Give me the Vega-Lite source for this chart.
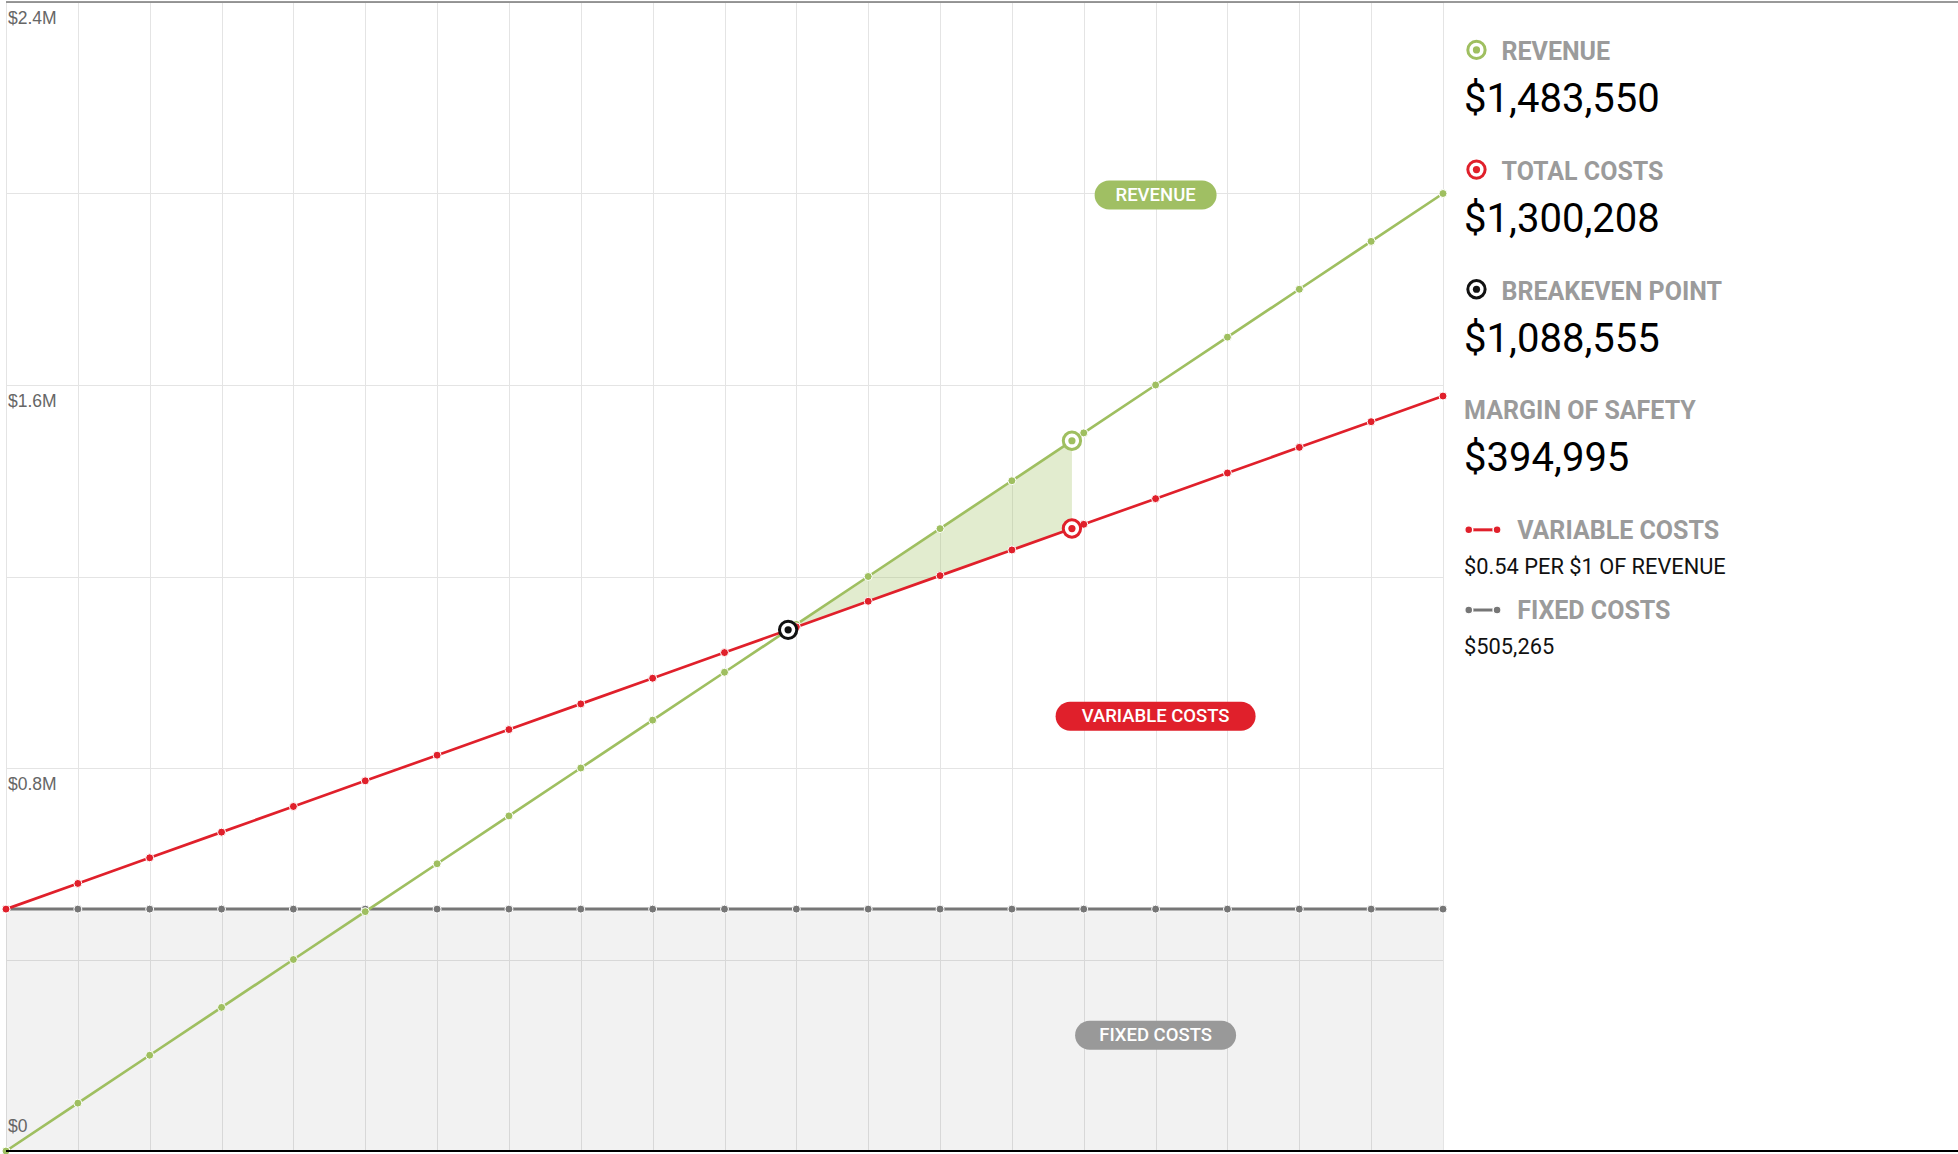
{
  "$schema": "https://vega.github.io/schema/vega-lite/v6.json",
  "padding": {"left": 0, "top": 1, "right": 0, "bottom": 0},
  "spacing": 0,
  "bounds": "flush",
  "config": {"view": {"stroke": null}, "font": "Roboto"},
  "datasets": {
    "series": [
      {"sales": 0, "revenue": 0, "totalCosts": 505265, "fixedCosts": 505265},
      {"sales": 100000, "revenue": 100000, "totalCosts": 558849, "fixedCosts": 505265},
      {"sales": 200000, "revenue": 200000, "totalCosts": 612433, "fixedCosts": 505265},
      {"sales": 300000, "revenue": 300000, "totalCosts": 666017, "fixedCosts": 505265},
      {"sales": 400000, "revenue": 400000, "totalCosts": 719601, "fixedCosts": 505265},
      {"sales": 500000, "revenue": 500000, "totalCosts": 773185, "fixedCosts": 505265},
      {"sales": 600000, "revenue": 600000, "totalCosts": 826768, "fixedCosts": 505265},
      {"sales": 700000, "revenue": 700000, "totalCosts": 880352, "fixedCosts": 505265},
      {"sales": 800000, "revenue": 800000, "totalCosts": 933936, "fixedCosts": 505265},
      {"sales": 900000, "revenue": 900000, "totalCosts": 987520, "fixedCosts": 505265},
      {"sales": 1000000, "revenue": 1000000, "totalCosts": 1041104, "fixedCosts": 505265},
      {"sales": 1100000, "revenue": 1100000, "totalCosts": 1094688, "fixedCosts": 505265},
      {"sales": 1200000, "revenue": 1200000, "totalCosts": 1148272, "fixedCosts": 505265},
      {"sales": 1300000, "revenue": 1300000, "totalCosts": 1201856, "fixedCosts": 505265},
      {"sales": 1400000, "revenue": 1400000, "totalCosts": 1255440, "fixedCosts": 505265},
      {"sales": 1500000, "revenue": 1500000, "totalCosts": 1309024, "fixedCosts": 505265},
      {"sales": 1600000, "revenue": 1600000, "totalCosts": 1362608, "fixedCosts": 505265},
      {"sales": 1700000, "revenue": 1700000, "totalCosts": 1416192, "fixedCosts": 505265},
      {"sales": 1800000, "revenue": 1800000, "totalCosts": 1469776, "fixedCosts": 505265},
      {"sales": 1900000, "revenue": 1900000, "totalCosts": 1523359, "fixedCosts": 505265},
      {"sales": 2000000, "revenue": 2000000, "totalCosts": 1576943, "fixedCosts": 505265}
    ],
    "margin": [
      {"sales": 1088555, "revenue": 1088555, "totalCosts": 1088555},
      {"sales": 1483550, "revenue": 1483550, "totalCosts": 1300208}
    ],
    "markers": [
      {"name": "revenue", "sales": 1483550, "value": 1483550},
      {"name": "totalCosts", "sales": 1483550, "value": 1300208},
      {"name": "breakeven", "sales": 1088555, "value": 1088555}
    ],
    "pills": [
      {"label": "REVENUE", "sales": 1600000, "value": 1997000},
      {"label": "VARIABLE COSTS", "sales": 1600000, "value": 908000},
      {"label": "FIXED COSTS", "sales": 1600000, "value": 242000}
    ],
    "yLabels": [
      {"value": 0, "label": "$0"},
      {"value": 800000, "label": "$0.8M"},
      {"value": 1600000, "label": "$1.6M"},
      {"value": 2400000, "label": "$2.4M"}
    ],
    "borders": [
      {"edge": "top", "row": 0},
      {"edge": "bottom", "row": 48}
    ],
    "headers": [
      {"label": "REVENUE", "col": 11.36, "row": 2.1},
      {"label": "TOTAL COSTS", "col": 11.36, "row": 7.1},
      {"label": "BREAKEVEN POINT", "col": 11.36, "row": 12.1},
      {"label": "MARGIN OF SAFETY", "col": 4.1, "row": 17.1},
      {"label": "VARIABLE COSTS", "col": 14.4, "row": 22.1},
      {"label": "FIXED COSTS", "col": 14.4, "row": 25.45}
    ],
    "amounts": [
      {"amount": "$1,483,550", "col": 4.1, "row": 4.1},
      {"amount": "$1,300,208", "col": 4.1, "row": 9.1},
      {"amount": "$1,088,555", "col": 4.1, "row": 14.1},
      {"amount": "$394,995", "col": 4.1, "row": 19.1}
    ],
    "notes": [
      {"note": "$0.54 PER $1 OF REVENUE", "col": 4.1, "row": 23.6},
      {"note": "$505,265", "col": 4.1, "row": 26.95}
    ],
    "rings": [
      {"item": "REVENUE", "col": 6.5, "row": 2.0},
      {"item": "TOTAL COSTS", "col": 6.5, "row": 7.0},
      {"item": "BREAKEVEN POINT", "col": 6.5, "row": 12.0}
    ],
    "lineIcons": [
      {"item": "VARIABLE COSTS", "col": 5.0, "row": 22.05},
      {"item": "VARIABLE COSTS", "col": 10.5, "row": 22.05},
      {"item": "FIXED COSTS", "col": 5.0, "row": 25.4},
      {"item": "FIXED COSTS", "col": 10.5, "row": 25.4}
    ]
  },
  "hconcat": [
    {
      "width": 1437,
      "height": 1149,
      "layer": [
        {
          "data": {"name": "series"},
          "mark": {"type": "area", "color": "#000000", "opacity": 0.05},
          "encoding": {
            "x": {
              "field": "sales", "type": "quantitative",
              "scale": {"domain": [0, 2000000], "nice": false},
              "axis": {
                "values": [0, 100000, 200000, 300000, 400000, 500000, 600000, 700000, 800000, 900000, 1000000, 1100000, 1200000, 1300000, 1400000, 1500000, 1600000, 1700000, 1800000, 1900000, 2000000],
                "labels": false, "ticks": false, "domain": false, "title": null,
                "grid": true, "gridColor": "#e4e4e4", "gridWidth": 1
              }
            },
            "y": {
              "field": "fixedCosts", "type": "quantitative",
              "scale": {"domain": [0, 2400000], "nice": false},
              "axis": {
                "values": [0, 400000, 800000, 1200000, 1600000, 2000000, 2400000],
                "title": null, "domain": false, "ticks": false, "labels": false,
                "grid": true, "gridColor": "#e4e4e4", "gridWidth": 1
              }
            }
          }
        },
        {
          "data": {"name": "margin"},
          "mark": {"type": "area", "color": "#9fbf60", "opacity": 0.3},
          "encoding": {
            "x": {"field": "sales", "type": "quantitative"},
            "y": {"field": "revenue", "type": "quantitative"},
            "y2": {"field": "totalCosts"}
          }
        },
        {
          "data": {"name": "yLabels"},
          "transform": [{"filter": "datum.value > 0"}],
          "mark": {"type": "text", "align": "left", "baseline": "top", "dx": 2, "dy": 8, "font": "Liberation Sans", "fontSize": 17.5, "color": "#666666"},
          "encoding": {
            "x": {"datum": 0, "type": "quantitative"},
            "y": {"field": "value", "type": "quantitative"},
            "text": {"field": "label", "type": "nominal"}
          }
        },
        {
          "data": {"name": "yLabels"},
          "transform": [{"filter": "datum.value == 0"}],
          "mark": {"type": "text", "align": "left", "baseline": "alphabetic", "dx": 2, "dy": -19, "font": "Liberation Sans", "fontSize": 17.5, "color": "#666666"},
          "encoding": {
            "x": {"datum": 0, "type": "quantitative"},
            "y": {"field": "value", "type": "quantitative"},
            "text": {"field": "label", "type": "nominal"}
          }
        },
        {
          "data": {"name": "series"},
          "mark": {"type": "line", "color": "#767676", "strokeWidth": 3},
          "encoding": {
            "x": {"field": "sales", "type": "quantitative"},
            "y": {"field": "fixedCosts", "type": "quantitative"}
          }
        },
        {
          "data": {"name": "series"},
          "mark": {"type": "circle", "color": "#767676", "size": 64, "opacity": 1, "stroke": "white", "strokeWidth": 1},
          "encoding": {
            "x": {"field": "sales", "type": "quantitative"},
            "y": {"field": "fixedCosts", "type": "quantitative"}
          }
        },
        {
          "data": {"name": "series"},
          "mark": {"type": "line", "color": "#9fbf60", "strokeWidth": 2.7},
          "encoding": {
            "x": {"field": "sales", "type": "quantitative"},
            "y": {"field": "revenue", "type": "quantitative"}
          }
        },
        {
          "data": {"name": "series"},
          "mark": {"type": "circle", "color": "#9fbf60", "size": 64, "opacity": 1, "stroke": "white", "strokeWidth": 1},
          "encoding": {
            "x": {"field": "sales", "type": "quantitative"},
            "y": {"field": "revenue", "type": "quantitative"}
          }
        },
        {
          "data": {"name": "series"},
          "mark": {"type": "line", "color": "#e0202b", "strokeWidth": 2.7},
          "encoding": {
            "x": {"field": "sales", "type": "quantitative"},
            "y": {"field": "totalCosts", "type": "quantitative"}
          }
        },
        {
          "data": {"name": "series"},
          "mark": {"type": "circle", "color": "#e0202b", "size": 64, "opacity": 1, "stroke": "white", "strokeWidth": 1},
          "encoding": {
            "x": {"field": "sales", "type": "quantitative"},
            "y": {"field": "totalCosts", "type": "quantitative"}
          }
        },
        {
          "data": {"name": "markers"},
          "mark": {"type": "point", "shape": "circle", "size": 300, "filled": true, "fill": "white", "strokeWidth": 3, "opacity": 1},
          "encoding": {
            "x": {"field": "sales", "type": "quantitative"},
            "y": {"field": "value", "type": "quantitative"},
            "stroke": {"field": "name", "type": "nominal", "legend": null,
              "scale": {"domain": ["revenue", "totalCosts", "breakeven"], "range": ["#9fbf60", "#e0202b", "#111111"]}}
          }
        },
        {
          "data": {"name": "markers"},
          "mark": {"type": "circle", "size": 52, "opacity": 1},
          "encoding": {
            "x": {"field": "sales", "type": "quantitative"},
            "y": {"field": "value", "type": "quantitative"},
            "fill": {"field": "name", "type": "nominal", "legend": null,
              "scale": {"domain": ["revenue", "totalCosts", "breakeven"], "range": ["#9fbf60", "#e0202b", "#111111"]}}
          }
        },
        {
          "data": {"name": "pills"},
          "transform": [{"filter": "datum.label == 'REVENUE'"}],
          "mark": {"type": "point", "filled": true, "opacity": 1, "strokeWidth": 0, "color": "#a0bf63", "size": 14884,
            "shape": "M-0.7623,-0.2377L0.7623,-0.2377A0.2377,0.2377,0,0,1,0.7623,0.2377L-0.7623,0.2377A0.2377,0.2377,0,0,1,-0.7623,-0.2377Z"},
          "encoding": {
            "x": {"field": "sales", "type": "quantitative"},
            "y": {"field": "value", "type": "quantitative"}
          }
        },
        {
          "data": {"name": "pills"},
          "transform": [{"filter": "datum.label == 'VARIABLE COSTS'"}],
          "mark": {"type": "point", "filled": true, "opacity": 1, "strokeWidth": 0, "color": "#e0202b", "size": 40000,
            "shape": "M-0.855,-0.145L0.855,-0.145A0.145,0.145,0,0,1,0.855,0.145L-0.855,0.145A0.145,0.145,0,0,1,-0.855,-0.145Z"},
          "encoding": {
            "x": {"field": "sales", "type": "quantitative"},
            "y": {"field": "value", "type": "quantitative"}
          }
        },
        {
          "data": {"name": "pills"},
          "transform": [{"filter": "datum.label == 'FIXED COSTS'"}],
          "mark": {"type": "point", "filled": true, "opacity": 1, "strokeWidth": 0, "color": "#999999", "size": 25921,
            "shape": "M-0.8199,-0.1801L0.8199,-0.1801A0.1801,0.1801,0,0,1,0.8199,0.1801L-0.8199,0.1801A0.1801,0.1801,0,0,1,-0.8199,-0.1801Z"},
          "encoding": {
            "x": {"field": "sales", "type": "quantitative"},
            "y": {"field": "value", "type": "quantitative"}
          }
        },
        {
          "data": {"name": "pills"},
          "mark": {"type": "text", "color": "white", "font": "Roboto", "fontSize": 18.5, "fontWeight": 500, "align": "center", "baseline": "middle"},
          "encoding": {
            "x": {"field": "sales", "type": "quantitative"},
            "y": {"field": "value", "type": "quantitative"},
            "text": {"field": "label", "type": "nominal"}
          }
        },
        {
          "data": {"values": [{}]},
          "mark": {"type": "rule", "color": "#777777", "strokeWidth": 1.5},
          "encoding": {"y": {"datum": 2400000, "type": "quantitative"}}
        },
        {
          "data": {"values": [{}]},
          "mark": {"type": "rule", "color": "#000000", "strokeWidth": 2},
          "encoding": {"y": {"datum": 0, "type": "quantitative"}}
        }
      ]
    },
    {
      "width": 515,
      "height": 1149,
      "layer": [
        {
          "data": {"name": "borders"},
          "transform": [{"filter": "datum.edge == 'top'"}],
          "mark": {"type": "rule", "color": "#777777", "strokeWidth": 1.5},
          "encoding": {"y": {"field": "row", "type": "quantitative", "scale": {"domain": [0, 48], "reverse": true, "nice": false}, "axis": null}}
        },
        {
          "data": {"name": "borders"},
          "transform": [{"filter": "datum.edge == 'bottom'"}],
          "mark": {"type": "rule", "color": "#000000", "strokeWidth": 2},
          "encoding": {"y": {"field": "row", "type": "quantitative", "axis": null}}
        },
        {
          "data": {"name": "headers"},
          "mark": {"type": "text", "align": "left", "baseline": "middle", "font": "Roboto", "fontSize": 25, "fontWeight": "bold", "color": "#9b9b9b"},
          "encoding": {
            "x": {"field": "col", "type": "quantitative", "scale": {"domain": [0, 100], "nice": false}, "axis": null},
            "y": {"field": "row", "type": "quantitative", "axis": null},
            "text": {"field": "label", "type": "nominal"}
          }
        },
        {
          "data": {"name": "amounts"},
          "mark": {"type": "text", "align": "left", "baseline": "middle", "font": "Roboto", "fontSize": 40, "fontWeight": 400, "color": "#000000"},
          "encoding": {
            "x": {"field": "col", "type": "quantitative", "axis": null},
            "y": {"field": "row", "type": "quantitative", "axis": null},
            "text": {"field": "amount", "type": "nominal"}
          }
        },
        {
          "data": {"name": "notes"},
          "mark": {"type": "text", "align": "left", "baseline": "middle", "font": "Roboto", "fontSize": 21.8, "fontWeight": 400, "color": "#111111"},
          "encoding": {
            "x": {"field": "col", "type": "quantitative", "axis": null},
            "y": {"field": "row", "type": "quantitative", "axis": null},
            "text": {"field": "note", "type": "nominal"}
          }
        },
        {
          "data": {"name": "rings"},
          "mark": {"type": "point", "shape": "circle", "size": 300, "filled": true, "fill": "white", "strokeWidth": 3, "opacity": 1},
          "encoding": {
            "x": {"field": "col", "type": "quantitative", "axis": null},
            "y": {"field": "row", "type": "quantitative", "axis": null},
            "stroke": {"field": "item", "type": "nominal", "legend": null,
              "scale": {"domain": ["REVENUE", "TOTAL COSTS", "BREAKEVEN POINT"], "range": ["#9fbf60", "#e0202b", "#111111"]}}
          }
        },
        {
          "data": {"name": "rings"},
          "mark": {"type": "circle", "size": 52, "opacity": 1},
          "encoding": {
            "x": {"field": "col", "type": "quantitative", "axis": null},
            "y": {"field": "row", "type": "quantitative", "axis": null},
            "fill": {"field": "item", "type": "nominal", "legend": null,
              "scale": {"domain": ["REVENUE", "TOTAL COSTS", "BREAKEVEN POINT"], "range": ["#9fbf60", "#e0202b", "#111111"]}}
          }
        },
        {
          "data": {"name": "lineIcons"},
          "mark": {"type": "line", "strokeWidth": 3},
          "encoding": {
            "x": {"field": "col", "type": "quantitative", "axis": null},
            "y": {"field": "row", "type": "quantitative", "axis": null},
            "color": {"field": "item", "type": "nominal", "legend": null,
              "scale": {"domain": ["VARIABLE COSTS", "FIXED COSTS"], "range": ["#e0202b", "#767676"]}}
          }
        },
        {
          "data": {"name": "lineIcons"},
          "mark": {"type": "circle", "size": 64, "opacity": 1, "stroke": "white", "strokeWidth": 1.5},
          "encoding": {
            "x": {"field": "col", "type": "quantitative", "axis": null},
            "y": {"field": "row", "type": "quantitative", "axis": null},
            "color": {"field": "item", "type": "nominal", "legend": null,
              "scale": {"domain": ["VARIABLE COSTS", "FIXED COSTS"], "range": ["#e0202b", "#767676"]}}
          }
        }
      ]
    }
  ]
}
